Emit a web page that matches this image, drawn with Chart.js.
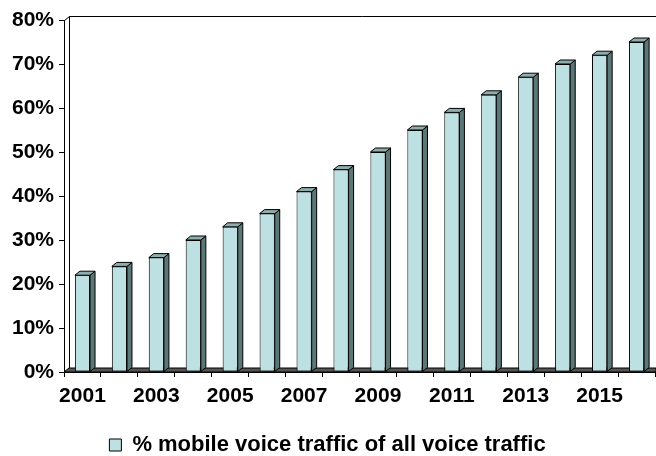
<!DOCTYPE html>
<html>
<head>
<meta charset="utf-8">
<script src="https://cdn.jsdelivr.net/npm/chart.js@4/dist/chart.umd.min.js"></script>
<style>
  html, body { margin: 0; padding: 0; background: #fff; }
  #wrap { width: 656px; height: 456px; }
</style>
</head>
<body>
<div id="wrap"><canvas id="chart" width="656" height="456"></canvas></div>
<script>
// data
const years = ['2001', '2002', '2003', '2004', '2005', '2006', '2007', '2008',
               '2009', '2010', '2011', '2012', '2013', '2014', '2015', '2016'];
const mobileShare = [22, 24, 26, 30, 33, 36, 41, 46, 50, 55, 59, 63, 67, 70, 72, 75];
const yTicks = [0, 10, 20, 30, 40, 50, 60, 70, 80];
const seriesName = '% mobile voice traffic of all voice traffic';

const FRONT = '#bde1e3';
const TOP = '#8eaeae';
const SIDE = '#5c7777';
const DX = 5, DY = -4; // 3d depth

const font = { family: 'Liberation Sans, Arial, sans-serif', size: 21, weight: 'bold' };

// fake 3d: walls, floor and the side/top faces of each bar
const depth3d = {
  id: 'depth3d',
  beforeDatasetsDraw(chart) {
    const ctx = chart.ctx;
    const a = chart.chartArea;
    ctx.save();
    ctx.strokeStyle = '#000';
    ctx.lineWidth = 1;

    // back / left wall
    ctx.beginPath();
    ctx.moveTo(a.left + 0.5, a.top + 0.5);
    ctx.lineTo(a.left + DX + 0.5, a.top + DY + 0.5);
    ctx.lineTo(chart.width, a.top + DY + 0.5);
    ctx.moveTo(a.left + DX + 0.5, a.top + DY + 0.5);
    ctx.lineTo(a.left + DX + 0.5, a.bottom + DY);
    ctx.stroke();

    // floor
    ctx.beginPath();
    ctx.moveTo(a.left, a.bottom);
    ctx.lineTo(chart.width, a.bottom);
    ctx.lineTo(chart.width, a.bottom + DY);
    ctx.lineTo(a.left + DX, a.bottom + DY);
    ctx.closePath();
    ctx.fillStyle = '#555';
    ctx.fill();
    ctx.stroke();

    chart.getDatasetMeta(0).data.forEach(bar => {
      const p = bar.getProps(['x', 'y', 'base', 'width'], true);
      const l = p.x - p.width / 2, r = p.x + p.width / 2;
      // side
      ctx.beginPath();
      ctx.moveTo(r, p.y);
      ctx.lineTo(r + DX, p.y + DY);
      ctx.lineTo(r + DX, p.base + DY);
      ctx.lineTo(r, p.base);
      ctx.closePath();
      ctx.fillStyle = SIDE;
      ctx.fill();
      ctx.stroke();
      // top
      ctx.beginPath();
      ctx.moveTo(l, p.y);
      ctx.lineTo(l + DX, p.y + DY);
      ctx.lineTo(r + DX, p.y + DY);
      ctx.lineTo(r, p.y);
      ctx.closePath();
      ctx.fillStyle = TOP;
      ctx.fill();
      ctx.stroke();
    });
    ctx.restore();
  }
};

const ctx = document.getElementById('chart').getContext('2d');
new Chart(ctx, {
  type: 'bar',
  data: {
    labels: years,
    datasets: [{
      label: seriesName,
      data: mobileShare,
      backgroundColor: FRONT,
      borderColor: '#000',
      borderWidth: 1,
      borderSkipped: false,
      categoryPercentage: 1,
      barPercentage: 0.41
    }]
  },
  options: {
    responsive: false,
    animation: false,
    events: [],
    // legend box carries 10px of empty space below, push it off the bottom edge
    layout: { padding: { top: 20, right: 1, left: 0, bottom: -10 } },
    plugins: {
      tooltip: { enabled: false },
      legend: {
        position: 'bottom',
        labels: {
          color: '#000',
          font: { ...font, size: 22, lineHeight: 1 },
          boxWidth: 12,
          boxHeight: 12,
          padding: 0,
          generateLabels: chart => [{
            text: seriesName,
            fillStyle: FRONT,
            strokeStyle: '#000',
            lineWidth: 1,
            hidden: false,
            datasetIndex: 0
          }]
        }
      }
    },
    scales: {
      x: {
        afterFit: s => { s.height = 62; },
        grid: { drawOnChartArea: false, color: '#000', tickLength: 5, offset: true },
        border: { display: true, color: '#000' },
        ticks: {
          autoSkip: false,
          maxRotation: 0,
          color: '#000',
          font: font,
          padding: 7,
          callback: (v, i) => (i % 2 === 0 ? years[i] : '')
        }
      },
      y: {
        min: yTicks[0],
        max: yTicks[yTicks.length - 1],
        afterFit: s => { s.width = 64; },
        afterBuildTicks: s => { s.ticks = yTicks.map(v => ({ value: v })); },
        grid: { drawOnChartArea: false, color: '#000', tickLength: 5 },
        border: { display: true, color: '#000' },
        ticks: {
          color: '#000',
          font: font,
          padding: 5,
          callback: v => v + '%'
        }
      }
    }
  },
  plugins: [depth3d]
});
</script>
</body>
</html>
